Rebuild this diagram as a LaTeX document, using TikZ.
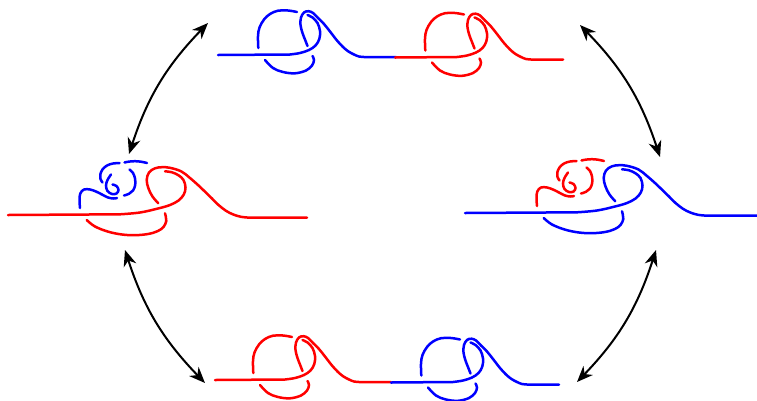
\documentclass[tikz,border=0pt]{standalone}
\usetikzlibrary{arrows.meta}
\tikzset{
  knot/.style={line width=2.5pt, line cap=round},
  move/.style={line width=2pt, {Stealth[length=16pt,width=13pt,inset=5pt]}-{Stealth[length=16pt,width=13pt,inset=5pt]}, bend left=13}
}
% long trefoil, lead starts at #1
\newcommand\trefoil[1]{%
\draw (#1,0) -- plot[smooth,tension=.6] coordinates {(32,-0.5) (42,-2) (51,-5) (57.5,-9.5) (61.3,-16) (62,-24) (59.5,-32) (54.5,-37.5) (49.5,-40)};
\draw plot[smooth,tension=.6] coordinates {(39,-43) (30,-44.5) (20,-44.3) (12,-41) (6,-35.5) (1.5,-27.5) (0,-19) (0.3,-7)};
\draw plot[smooth,tension=.6] coordinates {(7,5) (15,13) (25,17) (37,18.3) (48,15.5) (54,10.5) (56,5) (54.5,1)};
\draw plot[smooth,tension=.6] coordinates {(49.5,-9) (47,-15.5) (44.5,-22) (42.5,-30) (43,-37.5) (46,-42.5) (50.5,-43.8) (55,-42) (60,-37) (66,-31) (72,-23.5) (79,-14.5) (85,-8) (90.5,-3.5) (96,-0.5) (101,1.5) (106,2)} -- (138,2);
}
% big knot #1 with small knot #2 slid into it
\newcommand\slide[2]{%
\draw[#1] (8,215) -- plot[smooth,tension=.6] coordinates {(120,214.3) (140,212.5) (158,208.5) (170,205) (178.5,200.5) (183.8,194.5) (185.5,187.5) (183.5,180) (178.5,175.3) (172,172.3) (165,171.3)};
\draw[#1] plot[smooth,tension=.6] coordinates {(158.3,203.3) (152.5,196.5) (148.5,188.5) (146.7,180) (149,172.5) (155,168.3) (162,167.2) (170,167.8) (181.5,171.5) (190,178) (198,185) (205,191.7) (212,198.5) (218.3,204.8) (226,210.8) (233.3,214.5) (241,216.8) (250,217.7)} -- (307,217.7);
\draw[#1] plot[smooth,tension=.6] coordinates {(86.7,220) (95,226.5) (108.3,231.7) (122,234.5) (135,235.2) (148,234) (157.5,231.2) (163.5,227) (166.3,221) (165.8,216.5) (165,213.3)};
\draw[#2] plot[smooth,tension=.6] coordinates {(147,163) (141,161.7) (135,161.2) (129,161.6) (124.5,162.5)};
\draw[#2] plot[smooth,tension=.6] coordinates {(119.5,163) (113,163.5) (107,165.5) (102.5,169.5) (100.3,174.5) (100.5,179) (102.5,182.5)};
\draw[#2] plot[smooth,tension=.6] coordinates {(129.5,169.5) (133,173) (135,178.5) (135.2,185) (133,190.5) (129,193.8) (124,195.5)};
\draw[#2] plot[smooth,tension=.6] coordinates {(111,174.5) (107.5,180) (106,185.5) (107.5,191) (112,194) (116.5,193.5) (118.5,190) (116.5,186) (112.5,184.5)};
\draw[#2] plot[smooth,tension=.6] coordinates {(80,208) (79.5,200) (80.3,193.5) (84,189.5) (90,189.5) (96,191.5) (102,194.5) (108,197.5) (113.5,198.5) (117,198)};
}

\begin{document}
\begin{tikzpicture}[x=1pt,y=-1pt]
\useasboundingbox (0,0) rectangle (757,400);
% top
\begin{scope}[shift={(258,55)},knot,blue] \trefoil{-40} \end{scope}
\begin{scope}[shift={(425,57.5)},knot,red] \trefoil{-30} \end{scope}
% middle
\begin{scope}[knot] \slide{red}{blue} \end{scope}
\begin{scope}[shift={(457,-2)},knot] \slide{blue}{red} \end{scope}
% bottom
\begin{scope}[shift={(253,380)},knot,red] \trefoil{-38} \end{scope}
\begin{scope}[shift={(421,382.5)},knot,blue] \trefoil{-30} \end{scope}
% moves
\coordinate (tl) at (208,23);
\coordinate (tr) at (580,25);
\coordinate (lu) at (129,154);
\coordinate (ld) at (125,250);
\coordinate (ru) at (660,157);
\coordinate (rd) at (656,250);
\coordinate (bl) at (205,383);
\coordinate (br) at (577,382);
\draw[move] (lu) to (tl);
\draw[move] (tr) to (ru);
\draw[move] (rd) to (br);
\draw[move] (bl) to (ld);
\end{tikzpicture}
\end{document}
